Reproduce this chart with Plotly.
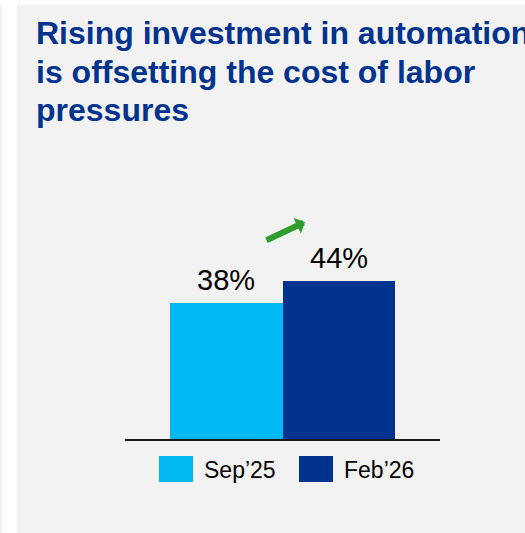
import plotly.graph_objects as go

# Data
periods = ["Sep\u201925", "Feb\u201926"]
shares = [38, 44]
colors = ["#00B9F2", "#00338D"]
title_lines = ["Rising investment in automation", "is offsetting the cost of labor", "pressures"]

W, H = 525, 533
# plot area in pixels
L, R, T, B = 125, 440, 200, 439


def px(xp):
    return (xp - L) / (R - L)


def py(yp):
    return (B - yp) / (B - T)


FONT = "Liberation Sans, Arial, sans-serif"

fig = go.Figure()
fig.add_trace(go.Bar(
    x=[0, 1], y=shares, width=1,
    marker=dict(color=colors, line=dict(width=0)),
    cliponaxis=False, showlegend=False, hoverinfo="skip",
))

shapes = [
    # white frame around the grey panel
    dict(type="rect", xref="paper", yref="paper", x0=px(-5), x1=px(W + 5), y0=py(5), y1=py(-5),
         fillcolor="#FFFFFF", line=dict(width=0), layer="below"),
    dict(type="rect", xref="paper", yref="paper", x0=px(2), x1=px(17), y0=py(H + 5), y1=py(-5),
         fillcolor="#FFFFFF", line=dict(width=0), layer="below"),
]

annotations = []

# headline, one line per annotation
for i, line in enumerate(title_lines):
    annotations.append(dict(xref="paper", yref="paper", x=px(34), y=py(33 + 38.5 * i),
                            xanchor="left", yanchor="middle", showarrow=False, text=line,
                            font=dict(family=FONT, size=32, color="#00338D", weight="bold")))

# value labels above the bars
for i, v in enumerate(shares):
    annotations.append(dict(xref="x", yref="y", x=i, y=v, yanchor="bottom", yshift=5,
                            showarrow=False, text=f"{v}%",
                            font=dict(family=FONT, size=29, color="#000000")))

# legend swatches and labels
leg = [(159, 204), (299, 344)]
for (sx, tx), name, c in zip(leg, periods, colors):
    shapes.append(dict(type="rect", xref="paper", yref="paper",
                       x0=px(sx), x1=px(sx + 34), y0=py(482), y1=py(456),
                       fillcolor=c, line=dict(width=0)))
    annotations.append(dict(xref="paper", yref="paper", x=px(tx - 2), y=py(470),
                            xanchor="left", yanchor="middle", showarrow=False,
                            text=name, font=dict(family=FONT, size=23, color="#000000")))

# green trend arrow
annotations.append(dict(xref="paper", yref="paper", x=px(305), y=py(222),
                        ax=-40, ay=19, axref="pixel", ayref="pixel",
                        showarrow=True, arrowhead=1, arrowsize=0.48, arrowwidth=6,
                        arrowcolor="#2E9D2E", text=""))

fig.update_layout(
    width=W, height=H,
    margin=dict(l=L, r=W - R, t=T, b=H - B, pad=0),
    paper_bgcolor="#F2F2F2", plot_bgcolor="rgba(0,0,0,0)",
    xaxis=dict(range=[-0.9, 1.9], showline=True, linecolor="#1A1A1A", linewidth=2,
               showticklabels=False, ticks="", showgrid=False, zeroline=False, fixedrange=True),
    yaxis=dict(range=[0, (B - T) / ((B - 302.7) / 38)], visible=False, showgrid=False,
               zeroline=False, fixedrange=True),
    bargap=0,
    shapes=shapes,
    annotations=annotations,
    showlegend=False,
)

fig.write_html("out.html", config={"displayModeBar": False})
